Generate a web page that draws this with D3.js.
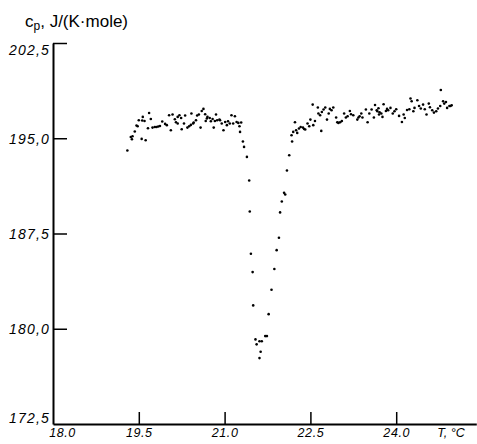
<!DOCTYPE html>
<html>
<head>
<meta charset="utf-8">
<script src="https://cdn.jsdelivr.net/npm/d3@7"></script>
<style>
    body { margin: 0; background: #fff; }
    svg { display: block; }
</style>
</head>
<body>
<div id="chart"></div>
<script>

// Temperature (deg C) readings, left plateau
var plateauLeftT = [19.30,19.36,19.38,19.39,19.43,19.46,19.48,19.50,19.56,19.55,19.57,19.60,19.62,19.68,19.66,19.71,19.74,19.78,19.81,19.84,19.87,19.91,19.96,19.99,20.03,20.06,20.09,20.13,20.15,20.18,20.21,20.24,20.25,20.29,20.31,20.35,20.38,20.41,20.42,20.46,20.50,20.52,20.55,20.58,20.60,20.63,20.67,20.70,20.74,20.76,20.79,20.81,20.85,20.87,20.92,20.95,20.98,21.01,21.04,21.06,21.09,21.12,21.15,21.18,21.21,21.24,21.27,21.29,20.66,20.83,20.91,21.26,20.18,20.45,20.69];
var plateauLeftCp = [194.03,195.10,194.92,195.16,195.53,196.00,195.95,196.42,196.40,194.95,196.68,196.36,194.84,196.99,195.79,196.52,195.84,195.89,195.89,195.92,195.97,196.32,196.13,196.03,196.81,195.63,196.87,196.50,196.26,196.68,196.81,196.60,195.71,196.16,196.79,195.84,195.95,196.05,196.95,196.24,196.42,196.79,196.87,195.84,197.15,197.31,196.36,196.68,196.60,196.34,196.52,195.84,196.87,196.42,196.42,196.16,195.63,196.28,196.03,196.34,196.16,196.81,196.16,196.73,196.28,196.21,195.50,196.24,196.89,196.36,196.47,195.95,196.16,196.16,196.55];

// The transition dip
var dipT = [21.32,21.34,21.39,21.43,21.44,21.46,21.49,21.50,21.54,21.56,21.61,21.65,21.63,21.61,21.71,21.74,21.77,21.82,21.87,21.91,21.95,21.97,22.00,22.04,22.06,22.09,22.13,22.18];
var dipCp = [194.74,194.32,193.53,191.67,189.23,185.90,184.46,181.84,179.16,178.77,179.01,179.01,178.19,177.69,179.42,179.42,181.15,183.07,184.70,186.19,187.16,189.16,190.02,190.70,190.57,192.46,193.66,194.74];

// Right plateau
var plateauRightT = [22.17,22.20,22.23,22.25,22.27,22.30,22.33,22.37,22.39,22.41,22.45,22.48,22.50,22.54,22.55,22.58,22.63,22.64,22.67,22.69,22.70,22.73,22.76,22.79,22.82,22.84,22.87,22.90,22.95,22.97,22.99,23.02,23.05,23.09,23.12,23.15,23.19,23.21,23.25,23.32,23.34,23.36,23.39,23.41,23.47,23.50,23.53,23.57,23.61,23.63,23.66,23.69,23.71,23.74,23.78,23.82,23.84,23.67,23.70,23.76,23.86,23.90,23.94,23.97,24.00,24.05,24.10,24.13,24.15,24.19,24.23,24.25,24.27,24.30,24.32,24.37,24.40,24.43,24.47,24.50,24.53,24.57,24.59,24.63,24.66,24.70,24.73,24.77,24.78,24.82,24.84,24.87,24.89,24.93,24.95,24.97];
var plateauRightCp = [195.24,195.50,196.26,195.63,195.42,195.77,195.89,195.84,195.73,195.69,196.16,195.95,196.47,197.65,196.03,196.36,197.42,196.95,196.81,195.58,197.07,197.26,197.42,196.47,196.95,197.31,197.21,197.42,196.63,196.26,196.21,196.26,196.36,196.95,196.63,196.73,197.15,196.89,196.81,196.47,196.63,196.73,196.95,196.63,197.26,196.26,196.95,197.26,196.63,197.62,197.21,197.36,197.05,196.95,197.68,197.15,197.31,197.13,196.87,196.68,197.21,197.39,196.95,197.13,197.28,196.76,196.28,196.87,196.60,197.23,197.28,198.13,197.91,197.13,197.39,197.99,197.54,197.34,197.65,197.28,196.87,197.73,197.44,197.21,197.02,197.13,197.34,197.54,198.80,197.91,197.73,197.86,197.39,197.54,197.54,197.60];

var xTicks = [18.0, 19.5, 21.0, 22.5, 24.0];
var yTicks = [172.5, 180.0, 187.5, 195.0, 202.5];

var width = 477,
    height = 444,
    margin = {top: 43, right: 0, bottom: 20, left: 53};

var points = []
    .concat( plateauLeftT.map( function ( t, i ) { return [t, plateauLeftCp[i]]; } ) )
    .concat( dipT.map( function ( t, i ) { return [t, dipCp[i]]; } ) )
    .concat( plateauRightT.map( function ( t, i ) { return [t, plateauRightCp[i]]; } ) );

var xScale = d3.scaleLinear()
    .domain( [18.0, 25.4] )
    .range( [margin.left, margin.left + 7.4 * 57.2] );

var yScale = d3.scaleLinear()
    .domain( [172.5, 202.5] )
    .range( [424, margin.top] );

var svg = d3.select( '#chart' ).append( 'svg' )
    .attr( 'width', width )
    .attr( 'height', height );

// Y axis, ticks point inward
var yAxis = d3.axisLeft( yScale )
    .tickValues( yTicks )
    .tickSizeInner( -14 )
    .tickSizeOuter( 0 )
    .tickPadding( 3 )
    .tickFormat( function ( d ) { return d3.format( '.1f' )( d ).replace( '.', ',' ); } );

var gy = svg.append( 'g' )
    .attr( 'transform', 'translate(' + margin.left + ',0)' )
    .call( yAxis );

gy.select( '.domain' ).attr( 'stroke-width', 2 );
gy.selectAll( '.tick line' ).attr( 'stroke-width', 1.5 )
    .attr( 'display', function ( d ) { return d === 172.5 ? 'none' : null; } );
gy.selectAll( '.tick text' )
    .style( 'font', 'italic 14px "Liberation Sans", Arial, sans-serif' )
    .style( 'letter-spacing', '1.2px' )
    .attr( 'fill', '#000' )
    .attr( 'dy', function ( d ) {
        if ( d === 202.5 ) return '0.85em';
        if ( d === 172.5 ) return '-0.1em';
        return '0.35em';
    });

// X axis, ticks point upward
var xAxis = d3.axisBottom( xScale )
    .tickValues( xTicks )
    .tickSizeInner( -12 )
    .tickSizeOuter( 0 )
    .tickPadding( 4 )
    .tickFormat( d3.format( '.1f' ) );

var gx = svg.append( 'g' )
    .attr( 'transform', 'translate(0,424)' )
    .call( xAxis );

gx.select( '.domain' ).attr( 'stroke-width', 2 );
gx.selectAll( '.tick line' ).attr( 'stroke-width', 1.5 )
    .attr( 'display', function ( d ) { return d === 18.0 ? 'none' : null; } );
gx.selectAll( '.tick text' )
    .style( 'font', 'italic 12.5px "Liberation Sans", Arial, sans-serif' )
    .style( 'letter-spacing', '0.6px' )
    .attr( 'fill', '#000' )
    .attr( 'dx', function ( d ) { return d === 18.0 ? 9 : 0; } );

// Axis titles
svg.append( 'text' )
    .attr( 'x', 451 )
    .attr( 'y', 437 )
    .attr( 'text-anchor', 'middle' )
    .style( 'font', 'italic 12.5px "Liberation Sans", Arial, sans-serif' )
    .text( 'T, °C' );

var title = svg.append( 'text' )
    .attr( 'x', 25 )
    .attr( 'y', 27 )
    .style( 'font', '17px "Liberation Sans", Arial, sans-serif' );
title.append( 'tspan' ).text( 'c' );
title.append( 'tspan' ).attr( 'dy', 3 ).style( 'font-size', '12px' ).text( 'p' );
title.append( 'tspan' ).attr( 'dy', -3 ).text( ', J/(K·mole)' );

// Scatter points
svg.append( 'g' )
    .selectAll( 'circle' )
    .data( points )
    .enter()
    .append( 'circle' )
    .attr( 'cx', function ( d ) { return xScale( d[0] ); } )
    .attr( 'cy', function ( d ) { return yScale( d[1] ); } )
    .attr( 'r', 1.3 )
    .attr( 'fill', '#000' );

</script>
</body>
</html>
